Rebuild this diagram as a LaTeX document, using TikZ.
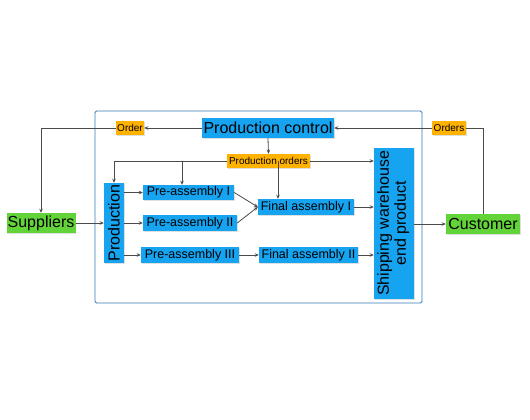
\documentclass[tikz,border=0pt]{standalone}
\usepackage{fontspec}
\setmainfont{Liberation Sans}
\usepackage{graphicx}
\usetikzlibrary{arrows.meta,shadows}
\definecolor{azul}{RGB}{22,163,240}
\definecolor{naranja}{RGB}{255,178,0}
\definecolor{verde}{RGB}{98,212,58}
\definecolor{marco}{RGB}{52,122,184}
\definecolor{linea}{RGB}{75,75,75}
\tikzset{
  sombra/.style={drop shadow={fill=black!25, shadow xshift=0.8pt, shadow yshift=-0.8pt}},
  caja/.style={fill=azul, inner sep=0pt, sombra},
  etiq/.style={fill=naranja, inner sep=0pt, sombra, font=\fontsize{10}{12}\selectfont},
  extremo/.style={fill=verde, inner sep=0pt, sombra, font=\fontsize{16}{18}\selectfont},
  grande/.style={font=\fontsize{16}{17}\selectfont},
  media/.style={font=\fontsize{12.5}{14}\selectfont},
  trazo/.style={linea, line width=0.8pt},
  flecha/.style={trazo, -{Stealth[length=4pt,width=3.5pt]}}
}
\begin{document}
\begin{tikzpicture}[x=1pt, y=-1pt]
  \useasboundingbox (0,0) rectangle (530,420);
  % marco
  \draw[marco, line width=0.8pt, rounded corners=1.5pt] (95,111) rectangle (422,303);
  % control y pedidos
  \node[caja, grande, minimum width=132pt, minimum height=20pt] (ctrl) at (268,128) {Production control};
  \node[etiq, minimum width=28pt, minimum height=14pt] (order) at (130,128) {Order};
  \node[etiq, minimum width=34pt, minimum height=14pt] (orders) at (449,128) {Orders};
  \node[etiq, minimum width=83pt, minimum height=14pt] (porders) at (268.5,161) {Production orders};
  % proveedores y cliente
  \node[extremo, minimum width=69pt, minimum height=20pt] (supp) at (41,223) {Suppliers};
  \node[extremo, minimum width=74pt, minimum height=20pt] (cust) at (483,224) {Customer};
  % produccion y montaje
  \node[caja, grande, minimum width=20pt, minimum height=80pt] (prod) at (114,223) {\rotatebox{90}{Production}};
  \node[caja, media, minimum width=91pt, minimum height=15pt] (pre1) at (188.5,192.5) {Pre-assembly I};
  \node[caja, media, minimum width=94pt, minimum height=16pt] (pre2) at (190,223) {Pre-assembly II};
  \node[caja, media, minimum width=98pt, minimum height=16pt] (pre3) at (190,255) {Pre-assembly III};
  \node[caja, media, minimum width=96pt, minimum height=16pt] (fin1) at (306,207) {Final assembly I};
  \node[caja, media, minimum width=99pt, minimum height=16pt] (fin2) at (308.5,255) {Final assembly II};
  \node[caja, grande, minimum width=40pt, minimum height=151pt] (ship) at (394,223.5)
    {\rotatebox{90}{\begin{tabular}{@{}c@{}}Shipping warehouse\\end product\end{tabular}}};
  % flujo de pedidos
  \draw[flecha] (ctrl.west) -- (order.east);
  \draw[flecha] (order.west) -| (supp.north);
  \draw[trazo] (cust.north) |- (orders.east);
  \draw[flecha] (orders.west) -- (ctrl.east);
  \draw[flecha] (ctrl.south) -- (porders.north);
  \draw[flecha] (porders.west) -| (prod.north);
  \coordinate (r1) at ([xshift=-6.5pt]pre1.north);
  \coordinate (r2) at ([xshift=-28pt]fin1.north);
  \draw[flecha] (r1 |- porders.west) -- (r1);
  \draw[flecha] (r2 |- porders.east) -- (r2);
  \draw[flecha] (porders.east) -- (porders.east -| ship.west);
  % flujo de material
  \draw[flecha] (supp.east) -- (prod.west);
  \draw[flecha] (prod.east |- pre1) -- (pre1.west);
  \draw[flecha] (prod.east |- pre2) -- (pre2.west);
  \draw[flecha] (prod.east |- pre3) -- (pre3.west);
  \draw[flecha] (pre1.east) -- (fin1.west);
  \draw[flecha] (pre2.east) -- (fin1.west);
  \draw[flecha] (pre3.east) -- (fin2.west);
  \draw[flecha] (fin1.east) -- (fin1.east -| ship.west);
  \draw[flecha] (fin2.east) -- (fin2.east -| ship.west);
  \draw[flecha] (ship.east |- cust) -- (cust.west);
\end{tikzpicture}
\end{document}
